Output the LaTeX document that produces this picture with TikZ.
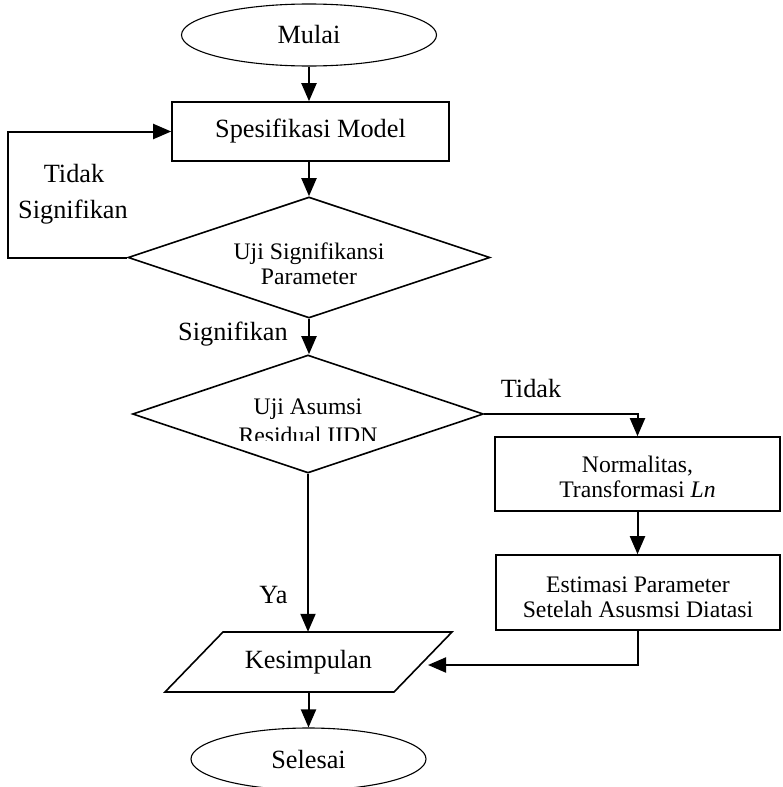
\documentclass[tikz,border=0pt]{standalone}
\usepackage{fontspec}
\setmainfont{Liberation Serif}
\usetikzlibrary{shapes.geometric,arrows.meta}
\begin{document}
\begin{tikzpicture}[x=1pt,y=-1pt,
  big/.style={font=\fontsize{26.3}{28}\selectfont},
  small/.style={font=\fontsize{23.7}{25}\selectfont, align=center, inner sep=0pt},
  term/.style={ellipse, draw, line width=1.1pt, inner sep=0pt, big},
  proc/.style={rectangle, draw, line width=1.6pt, inner sep=0pt},
  dec/.style={diamond, draw, line width=1.6pt, inner sep=0pt},
  arr/.style={line width=2pt, -{Triangle[length=18pt,width=15pt]}},
  lbl/.style={big, inner sep=0pt, anchor=base}]
\useasboundingbox (0,0) rectangle (782,787);
% nodes
\node[term, minimum width=255pt, minimum height=62pt] (mulai) at (309,35) {Mulai};
\node[proc, big, minimum width=277pt, minimum height=59pt] (spes) at (310.5,131.5) {Spesifikasi Model};
\node[dec, minimum width=362pt, minimum height=121pt] (d1) at (309,257.5) {};
\node[small] (d1t) at (309,264) {Uji Signifikansi\\Parameter};
\node[dec, minimum width=351pt, minimum height=118pt] (d2) at (308,414) {};
\begin{scope}
  \clip (150,380) rectangle (470,440);
  \node[small, font=\fontsize{23.7}{29}\selectfont] (d2t) at (308,421) {Uji Asumsi\\Residual IIDN};
\end{scope}
\node[proc, minimum width=285pt, minimum height=74pt] (norm) at (637.5,474) {};
\node[small] (normt) at (637.5,477) {Normalitas,\\Transformasi \textit{Ln}};
\node[proc, minimum width=284pt, minimum height=75pt] (est) at (638,592.5) {};
\node[small] (estt) at (638,597) {Estimasi Parameter\\Setelah Asusmsi Diatasi};
\draw[line width=1.6pt] (165,692) -- (223,632) -- (452,632) -- (394,692) -- cycle;
\node[big, minimum width=229pt, minimum height=60pt, inner sep=0pt] (kes) at (308.5,662) {Kesimpulan};
\node[term, minimum width=235pt, minimum height=62pt] (sel) at (308.5,759) {Selesai};
% connectors
\coordinate (lx) at (8,0);
\coordinate (kesin) at (428,665);
\draw[arr] (mulai.south) -- (mulai.south |- spes.north);
\draw[arr] (spes.south -| d1.north) -- (d1.north);
\draw[arr] (d1.west) -- (d1.west -| lx) |- (spes.west);
\draw[arr] (d1.south) -- (d1.south |- d2.north);
\draw[arr] (d2.east) -| (norm.north);
\draw[arr] (norm.south) -- (norm.south |- est.north);
\draw[arr] (est.south) |- (kesin);
\draw[arr] (d2.south) -- (d2.south |- kes.north);
\draw[arr] (kes.south) -- (kes.south |- sel.north);
% labels
\node[lbl] (ltidak1) at (74,182) {Tidak};
\node[lbl] (lsig1) at (73,218) {Signifikan};
\node[lbl] (lsig2) at (233,340) {Signifikan};
\node[lbl] (ltidak2) at (531,397) {Tidak};
\node[lbl] (lya) at (273.5,603) {Ya};
\end{tikzpicture}
\end{document}
